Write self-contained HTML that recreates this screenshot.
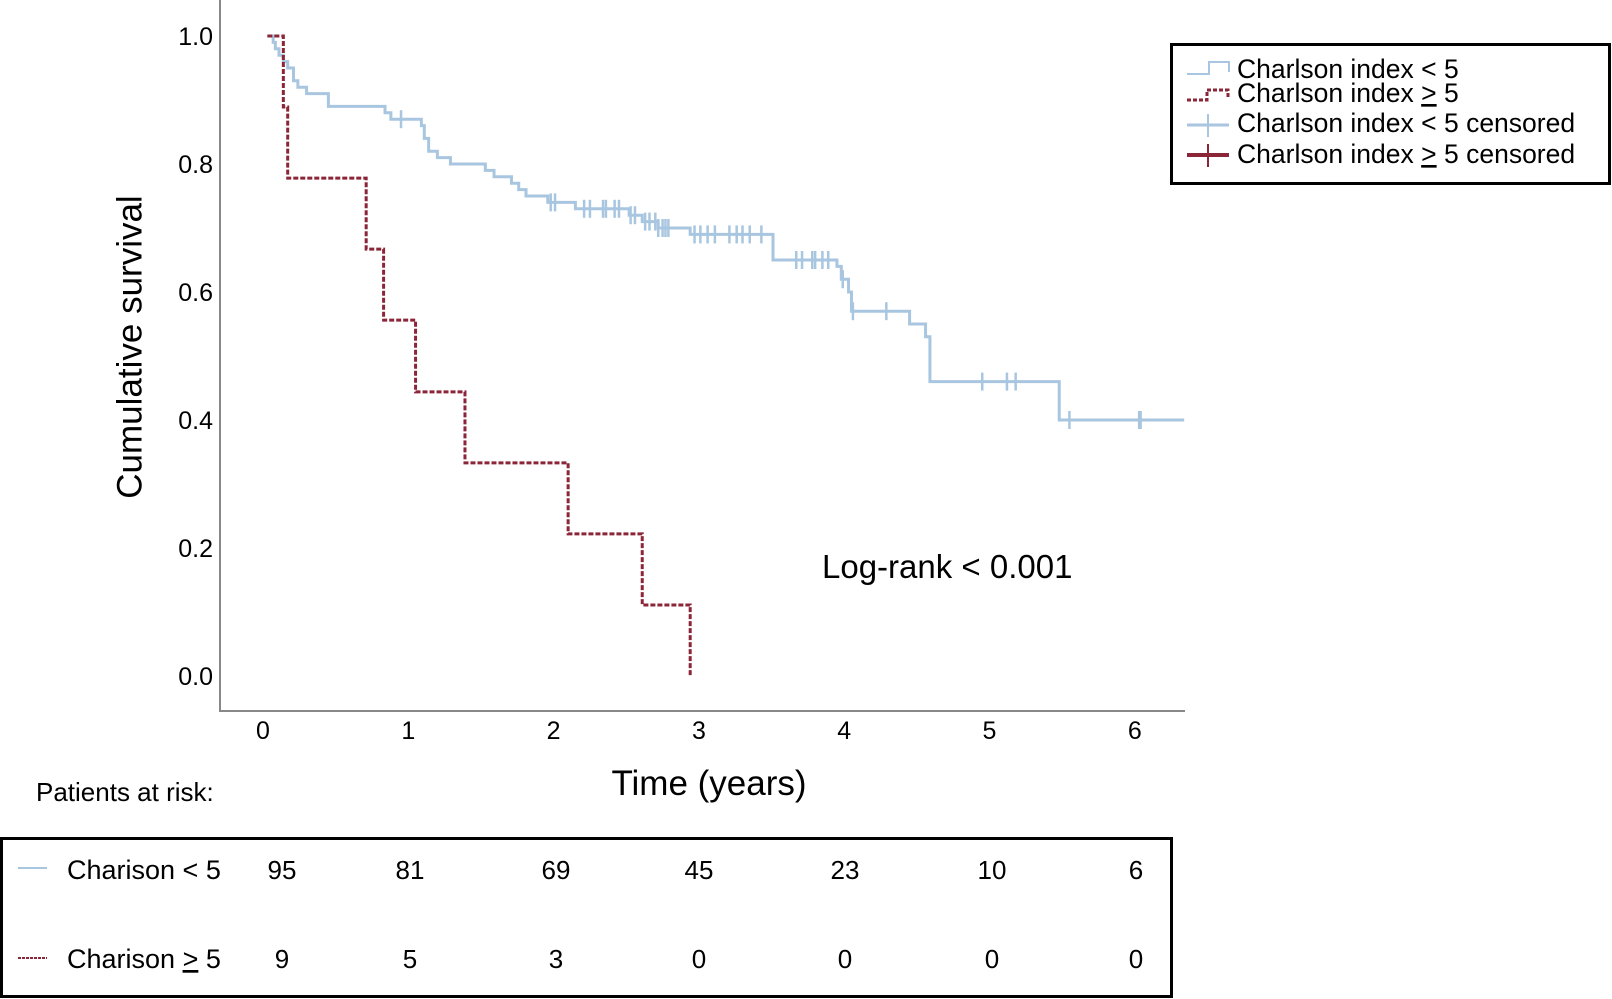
<!DOCTYPE html>
<html><head><meta charset="utf-8"><style>
body{margin:0;background:#fff;}
svg{display:block;font-family:"Liberation Sans",Arial,sans-serif;}
</style></head><body>
<svg id="chart" width="1612" height="999" viewBox="0 0 1612 999">
<g id="axes"></g>
<g id="series"></g>
<text x="132" y="347" font-size="35" text-anchor="middle" transform="rotate(-90 132 347)" dominant-baseline="middle">Cumulative survival</text>
<text x="709" y="795" font-size="35" text-anchor="middle">Time (years)</text>
<text x="822" y="578" font-size="33">Log-rank &lt; 0.001</text>
<g>
<rect x="1171.5" y="44.5" width="438" height="139" fill="#fff" stroke="#000" stroke-width="3"/>
<g>
<polyline points="1187,74 1209,74 1209,62 1229,62 1229,72" fill="none" stroke="#a8c6e0" stroke-width="2"/>
<text x="1237" y="78" font-size="26.5">Charlson index &lt; 5</text></g>
<g>
<polyline points="1187,100 1207,100 1207,90 1228,90 1228,99" fill="none" stroke="#8b2538" stroke-width="3" stroke-dasharray="4 2"/>
<text x="1237" y="102" font-size="26.5">Charlson index <tspan text-decoration="underline">&gt;</tspan> 5</text></g>
<g>
<line x1="1187" y1="125" x2="1229" y2="125" stroke="#a8c6e0" stroke-width="3"/><line x1="1208" y1="114" x2="1208" y2="137" stroke="#a8c6e0" stroke-width="2"/>
<text x="1237" y="132" font-size="26.5">Charlson index &lt; 5 censored</text></g>
<g>
<line x1="1187" y1="155" x2="1229" y2="155" stroke="#8b2538" stroke-width="4"/><line x1="1208" y1="144" x2="1208" y2="167" stroke="#8b2538" stroke-width="2"/>
<text x="1237" y="163" font-size="26.5">Charlson index <tspan text-decoration="underline">&gt;</tspan> 5 censored</text></g>
</g>
<text x="36" y="801" font-size="26">Patients at risk:</text>
<rect x="1.5" y="838.5" width="1170" height="158" fill="none" stroke="#000" stroke-width="3"/>
<g>
<line x1="18" y1="868" x2="47" y2="868" stroke="#a8c6e0" stroke-width="2"/>
<text x="67" y="879" font-size="27">Charison &lt; 5</text></g>
<g>
<line x1="18" y1="958" x2="47" y2="958" stroke="#8b2538" stroke-width="2" stroke-dasharray="3 1"/>
<text x="67" y="968" font-size="27">Charison <tspan text-decoration="underline">&gt;</tspan> 5</text></g>
<g id="risk"></g>
</svg>
<script>
const xTicks=[0,1,2,3,4,5,6];
const yTicks=[0,0.2,0.4,0.6,0.8,1.0];
const yTickLabels=["0.0","0.2","0.4","0.6","0.8","1.0"];
const lowStart=0.03, lowEnd=6.34;
const lowTimes=[0.07,0.085,0.11,0.14,0.17,0.21,0.24,0.30,0.45,0.84,0.88,1.09,1.11,1.14,1.20,1.29,1.53,1.59,1.71,1.76,1.81,1.96,2.15,2.52,2.61,2.72,2.94,3.51,3.95,3.98,4.03,4.05,4.45,4.56,4.59,5.48];
const lowSurv=[0.99,0.98,0.97,0.96,0.95,0.93,0.92,0.91,0.89,0.88,0.87,0.86,0.84,0.82,0.81,0.80,0.79,0.78,0.77,0.76,0.75,0.74,0.73,0.72,0.71,0.70,0.69,0.65,0.64,0.62,0.60,0.57,0.55,0.53,0.46,0.40];
const lowCensor=[0.95,1.98,2.01,2.21,2.25,2.34,2.36,2.42,2.45,2.53,2.56,2.63,2.66,2.70,2.72,2.75,2.77,2.79,2.97,3.01,3.06,3.11,3.21,3.26,3.30,3.35,3.43,3.67,3.71,3.78,3.80,3.85,3.89,3.99,4.06,4.29,4.95,5.12,5.18,5.55,6.03,6.04];
const highStart=0.03;
const highTimes=[0.14,0.17,0.71,0.83,1.05,1.39,2.10,2.61,2.94];
const highSurv=[0.889,0.778,0.667,0.556,0.444,0.333,0.222,0.111,0];
const riskLow=[95,81,69,45,23,10,6];
const riskHigh=[9,5,3,0,0,0,0];
const riskX=[282,410,556,699,845,992,1136];

const NS="http://www.w3.org/2000/svg";
const X=t=>263+t*145.3, Y=s=>676-s*640;
function mk(tag,attrs,parent){const e=document.createElementNS(NS,tag);for(const k in attrs)e.setAttribute(k,attrs[k]);parent.appendChild(e);return e;}
const axes=document.getElementById('axes'), series=document.getElementById('series'), risk=document.getElementById('risk');
let l=mk('line',{x1:220,y1:0,x2:220,y2:711,stroke:'#888','stroke-width':2},axes);


l=mk('line',{x1:219,y1:711,x2:1185,y2:711,stroke:'#888','stroke-width':2},axes);


xTicks.forEach(v=>{const t=mk('text',{x:X(v),y:739,'font-size':25,'text-anchor':'middle'},axes);t.textContent=v;

});
yTicks.forEach((v,i)=>{const t=mk('text',{x:213,y:Y(v)+9,'font-size':25,'text-anchor':'end'},axes);t.textContent=yTickLabels[i];

});
function stepPath(start,times,surv,end){let d=`M${X(start)},${Y(1)}`;times.forEach((t,i)=>{d+=` H${X(t)} V${Y(surv[i])}`;});if(end!==undefined)d+=` H${X(end)}`;return d;}
function survAt(t){let s=1;lowTimes.forEach((tt,i)=>{if(tt<=t)s=lowSurv[i];});return s;}
let p=mk('path',{d:stepPath(lowStart,lowTimes,lowSurv,lowEnd),fill:'none',stroke:'#a8c6e0','stroke-width':3},series);


lowCensor.forEach(t=>{const c=mk('line',{x1:X(t),x2:X(t),y1:Y(survAt(t))-9,y2:Y(survAt(t))+9,stroke:'#a8c6e0','stroke-width':2.5},series);

});
p=mk('path',{d:stepPath(highStart,highTimes,highSurv),fill:'none',stroke:'#8b2538','stroke-width':3,'stroke-dasharray':'5 2'},series);


riskLow.forEach((v,i)=>{const t=mk('text',{x:riskX[i],y:879,'font-size':26,'text-anchor':'middle'},risk);t.textContent=v;

});
riskHigh.forEach((v,i)=>{const t=mk('text',{x:riskX[i],y:968,'font-size':26,'text-anchor':'middle'},risk);t.textContent=v;

});
</script>
</body></html>
